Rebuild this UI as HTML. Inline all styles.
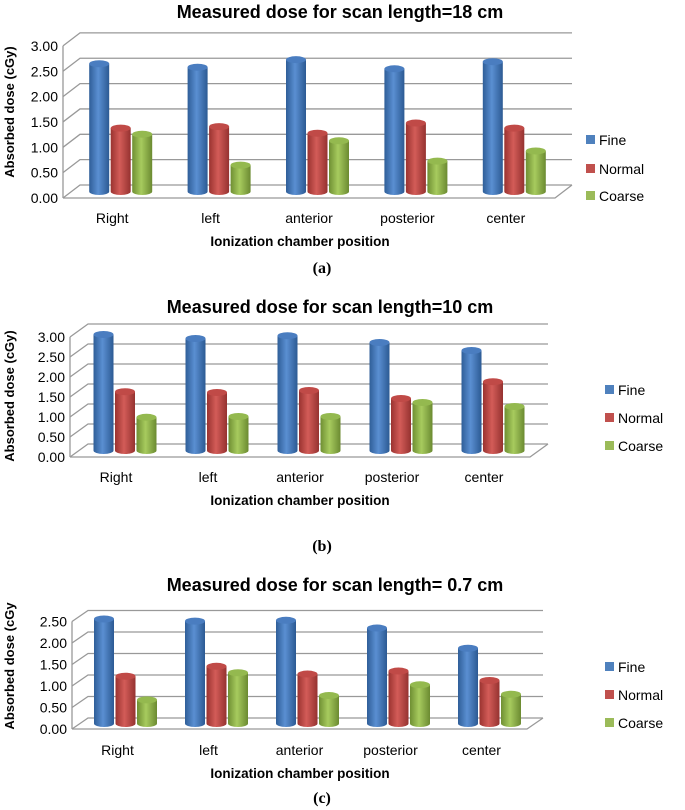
<!DOCTYPE html>
<html><head><meta charset="utf-8"><style>
html,body{margin:0;padding:0;background:#fff;}
svg{display:block;font-family:"Liberation Sans",sans-serif;}
</style></head><body>
<svg id="fig" width="685" height="810" viewBox="0 0 685 810" xmlns="http://www.w3.org/2000/svg">
<defs>
<linearGradient id="gB" x1="0" x2="1" y1="0" y2="0"><stop offset="0" stop-color="#2f5e98"/><stop offset="0.45" stop-color="#5a8fd2"/><stop offset="1" stop-color="#2c5a93"/></linearGradient>
<linearGradient id="gR" x1="0" x2="1" y1="0" y2="0"><stop offset="0" stop-color="#9a3330"/><stop offset="0.45" stop-color="#d35c58"/><stop offset="1" stop-color="#953230"/></linearGradient>
<linearGradient id="gG" x1="0" x2="1" y1="0" y2="0"><stop offset="0" stop-color="#6f8f33"/><stop offset="0.45" stop-color="#a7cb5e"/><stop offset="1" stop-color="#6b8a31"/></linearGradient>
</defs>
</svg>
<script>
const categories = ["Right","left","anterior","posterior","center"];
const seriesNames = ["Fine","Normal","Coarse"];
const fineA = [2.52,2.45,2.60,2.42,2.56];
const normalA = [1.25,1.28,1.15,1.35,1.25];
const coarseA = [1.13,0.52,1.00,0.60,0.80];
const fineB = [2.90,2.80,2.87,2.70,2.50];
const normalB = [1.47,1.45,1.50,1.30,1.72];
const coarseB = [0.83,0.85,0.85,1.20,1.10];
const fineC = [2.43,2.38,2.40,2.22,1.75];
const normalC = [1.10,1.33,1.15,1.22,1.00];
const coarseC = [0.55,1.18,0.65,0.90,0.68];
const ticksA = ["0.00","0.50","1.00","1.50","2.00","2.50","3.00"];
const ticksB = ["0.00","0.50","1.00","1.50","2.00","2.50","3.00"];
const ticksC = ["0.00","0.50","1.00","1.50","2.00","2.50"];

const NS="http://www.w3.org/2000/svg";
const svg=document.getElementById('fig');
const fills=["url(#gB)","url(#gR)","url(#gG)"];
const tops=["#4a7dc0","#c04a47","#94b94f"];
const legendCols=["#4f81bd","#c0504d","#9bbb59"];
function mk(tag,attrs,parent){const e=document.createElementNS(NS,tag);for(const k in attrs)e.setAttribute(k,attrs[k]);(parent||svg).appendChild(e);return e;}
function txt(s,attrs,parent){const e=mk('text',attrs,parent);e.textContent=s;return e;}

function chart(cfg){
  const g=mk('g',{});
  
  
  const {x0,y0,dx,dy,unit,width,ticks,series,step}=cfg;
  const slot=width/categories.length;
  const yv=v=>y0-v*unit;
  ticks.forEach((t,i)=>{
    const v=i*step, y=yv(v);
    const gl=mk('polyline',{points:`${x0},${y} ${x0+dx},${y-dy} ${x0+width+dx},${y-dy}`,fill:'none',stroke:'#999','stroke-width':1.3},g);
    
    
    const tl=txt(t,{x:x0-5,y:y+5,'text-anchor':'end','font-size':14,fill:'#000'},g);
    
    
  });
  const ax=mk('line',{x1:x0,y1:y0,x2:x0,y2:yv((ticks.length-1)*step),stroke:'#999','stroke-width':1.3},g);
  
  
  const fl=mk('polyline',{points:`${x0},${y0} ${x0+width},${y0} ${x0+width+dx},${y0-dy}`,fill:'none',stroke:'#999','stroke-width':1.3},g);
  
  
  const bw=20, pitch=21.5, ry=3.5;
  categories.forEach((c,i)=>{
    const cx=x0+(i+0.5)*slot+dx/2;
    const base=y0-dy/2;
    series.forEach((arr,k)=>{
      const v=arr[i];
      const bx=cx+(k-1)*pitch-bw/2;
      const top=base-v*unit;
      const bar=mk('path',{d:`M${bx},${top} L${bx},${base} A${bw/2},${ry} 0 0 0 ${bx+bw},${base} L${bx+bw},${top} Z`,fill:fills[k]},g);
      
      
      mk('ellipse',{cx:bx+bw/2,cy:top,rx:bw/2,ry:ry,fill:tops[k]},g);
    });
    const cl=txt(c,{x:x0+(i+0.5)*slot,y:cfg.catY,'text-anchor':'middle','font-size':14},g);
    
    
  });
  const t=txt(cfg.title,{x:cfg.titleX,y:cfg.titleY,'text-anchor':'middle','font-size':18,'font-weight':'bold'},g);
  
  
  const xt=txt('Ionization chamber position',{x:300,y:cfg.xtY,'text-anchor':'middle','font-size':13.5,'font-weight':'bold'},g);
  
  
  const yt=txt(cfg.ytitle,{x:0,y:0,transform:`translate(14,${cfg.ytY}) rotate(-90)`,'text-anchor':'middle','font-size':13,'font-weight':'bold'},g);
  
  
  seriesNames.forEach((s,k)=>{
    const ly=cfg.legY[k];
    const sq=mk('rect',{x:cfg.legX,y:ly-10,width:9,height:9,fill:legendCols[k]},g);
    
    
    const lt=txt(s,{x:cfg.legX+13,y:ly,'font-size':14},g);
    
    
  });
  const cap=txt(cfg.cap,{x:322,y:cfg.capY,'text-anchor':'middle','font-size':16,'font-weight':'bold','font-family':'"Liberation Serif",serif'},g);
  
  
}
chart({id:'a',x0:63,y0:198,dx:17,dy:13,unit:50.7,step:0.5,width:492,ticks:ticksA,series:[fineA,normalA,coarseA],
  catY:223,title:'Measured dose for scan length=18 cm',titleX:340,titleY:18,xtY:246,ytitle:'Absorbed dose (cGy)',ytY:112,
  legX:586,legY:[145,174,201],cap:'(a)',capY:273});
chart({id:'b',x0:70,y0:457,dx:18,dy:13,unit:40,step:0.5,width:460,ticks:ticksB,series:[fineB,normalB,coarseB],
  catY:482,title:'Measured dose for scan length=10 cm',titleX:330,titleY:313,xtY:505,ytitle:'Absorbed dose (cGy)',ytY:396,
  legX:605,legY:[395,423,451],cap:'(b)',capY:551});
chart({id:'c',x0:72,y0:729,dx:16,dy:11,unit:43,step:0.5,width:455,ticks:ticksC,series:[fineC,normalC,coarseC],
  catY:755,title:'Measured dose for scan length= 0.7 cm',titleX:335,titleY:591,xtY:778,ytitle:'Absorbed dose (cGy',ytY:666,
  legX:605,legY:[672,700,728],cap:'(c)',capY:803});
</script>
</body></html>
